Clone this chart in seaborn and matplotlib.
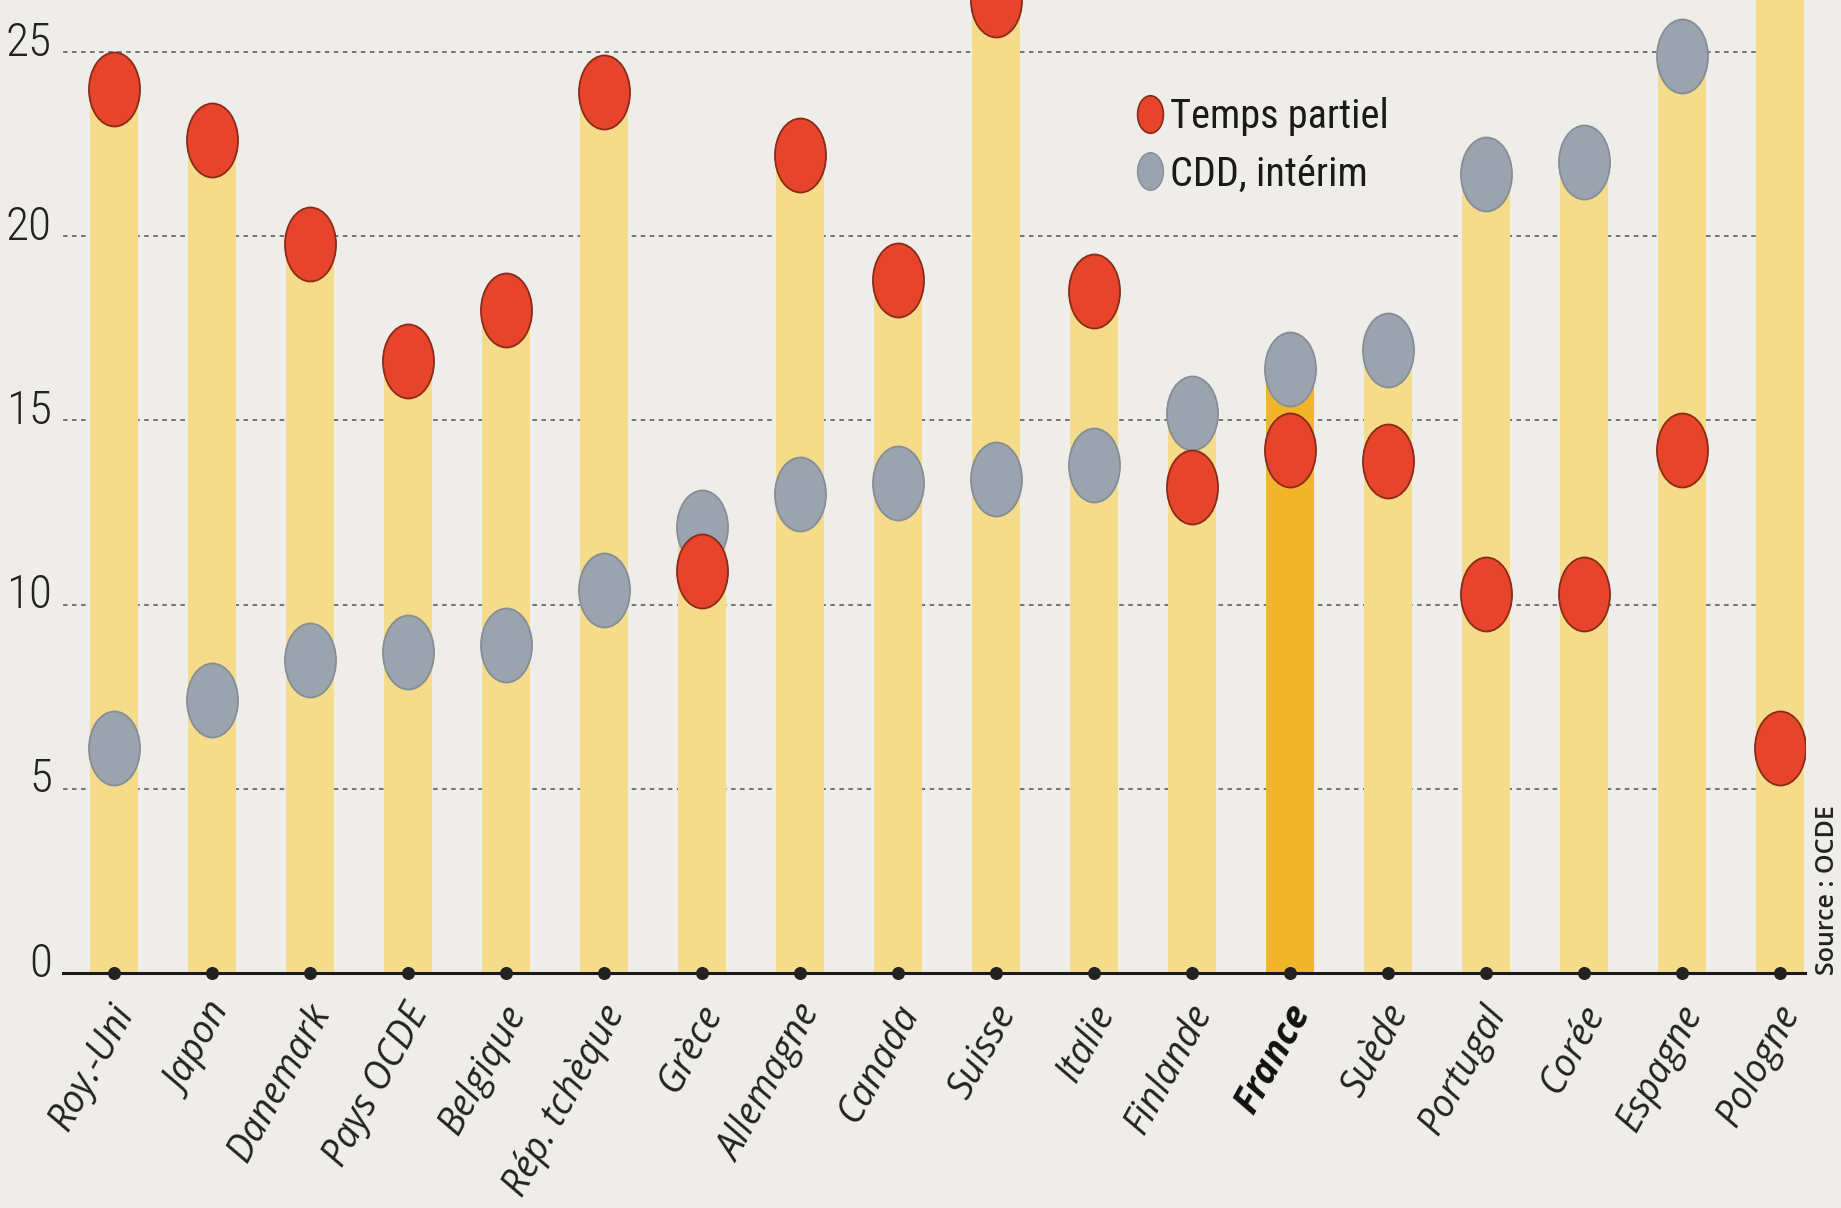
import numpy as np
import pandas as pd
import matplotlib
matplotlib.use("Agg")
import matplotlib.pyplot as plt
import matplotlib.transforms as mtransforms
from matplotlib.path import Path
from matplotlib.lines import Line2D
import seaborn as sns

# Part de l'emploi total (%), OCDE
pays = ["Roy.-Uni", "Japon", "Danemark", "Pays OCDE", "Belgique", "Rép. tchèque",
        "Grèce", "Allemagne", "Canada", "Suisse", "Italie", "Finlande", "France",
        "Suède", "Portugal", "Corée", "Espagne", "Pologne"]
temps_partiel = [24.0, 22.6, 19.8, 16.6, 18.0, 23.9, 10.9, 22.2, 18.8, 26.4,
                 18.5, 13.2, 14.2, 13.9, 10.3, 10.3, 14.2, 6.1]
cdd_interim = [6.1, 7.4, 8.5, 8.7, 8.9, 10.4, 12.1, 13.0, 13.3, 13.4,
               13.8, 15.2, 16.4, 16.9, 21.7, 22.0, 24.9, 28.2]
y_ticks = [0, 5, 10, 15, 20, 25]
series = ["CDD, intérim", "Temps partiel"]
legend_order = ["Temps partiel", "CDD, intérim"]

BG = "#EFEDEA"
BAR = "#F4DC8A"
BAR_FR = "#F1B52A"
RED = "#E6452C"
GRAY = "#9AA3AE"

NARROW = ["Roboto Condensed", "Open Sans Condensed", "Lato", "DejaVu Sans"]
HUMANIST = ["Open Sans", "DejaVu Sans"]

sns.set_theme(style="white")
plt.rcParams["font.family"] = NARROW

bars = pd.DataFrame({"pays": pays,
                     "hauteur": np.maximum(temps_partiel, cdd_interim)})
points = pd.DataFrame({
    "pos": list(range(len(pays))) * 2,
    "valeur": cdd_interim + temps_partiel,
    "type": [series[0]] * len(pays) + [series[1]] * len(pays),
})

fig = plt.figure(figsize=(18.41, 12.08), dpi=100, facecolor=BG)
ax = fig.add_axes([63 / 1841, 235 / 1208, 1742 / 1841, 973 / 1208])
ax.set_facecolor(BG)

# dashed horizontal guides behind everything
for v in y_ticks[1:]:
    ax.axhline(v, color="#6a6a6a", lw=1.3, ls=(0, (2.5, 2.5)), zorder=0.5)

bar_colors = {p: (BAR_FR if p == "France" else BAR) for p in pays}
sns.barplot(data=bars, x="pays", y="hauteur", hue="pays", palette=bar_colors,
            width=0.49, errorbar=None, legend=False, saturation=1,
            linewidth=0, ax=ax, zorder=1)

# slightly tall elliptical dots
ellipse = Path.unit_circle().transformed(mtransforms.Affine2D().scale(1, 1.45))
edge = {series[0]: "#858d97", series[1]: "#8a2a18"}
for name, color in zip(series, [GRAY, RED]):
    sub = points[points["type"] == name]
    sns.scatterplot(data=sub, x="pos", y="valeur", color=color, marker=ellipse,
                    s=2840, edgecolor=edge[name], linewidth=1.3, ax=ax,
                    zorder=3, legend=False)

# small dots on the baseline under each country
ax.scatter(range(len(pays)), [0] * len(pays), s=70, color="#222222",
           zorder=5, clip_on=False)

ax.set_xlim(-0.52, 17.26)
ax.set_ylim(0, 26.41)
ax.set_xlabel("")
ax.set_ylabel("")

for s in ["top", "right", "left"]:
    ax.spines[s].set_visible(False)
ax.spines["bottom"].set_color("#1a1a1a")
ax.spines["bottom"].set_linewidth(2.2)
ax.spines["bottom"].set_zorder(4)

ax.set_yticks(y_ticks)
ax.set_yticklabels([str(v) for v in y_ticks], fontsize=34, color="#222222",
                   family=NARROW, fontweight="light")
ax.tick_params(axis="y", length=0, pad=8)
for lab in ax.get_yticklabels():
    lab.set_transform(lab.get_transform() +
                      mtransforms.ScaledTranslation(0, 10 / 72, fig.dpi_scale_trans))

ax.set_xticks(range(len(pays)))
ax.set_xticklabels(pays, rotation=61, ha="right", va="center",
                   rotation_mode="anchor", fontsize=27, style="italic",
                   color="#222222", family=HUMANIST)
ax.tick_params(axis="x", length=0, pad=25)
for lab in ax.get_xticklabels():
    lab.set_transform(lab.get_transform() +
                      mtransforms.ScaledTranslation(12 / 100, 0, fig.dpi_scale_trans))
    if lab.get_text() == "France":
        lab.set_fontweight("bold")
        lab.set_color("#111111")

handles = [
    Line2D([], [], ls="none", marker=ellipse, markersize=27, color=RED,
           markeredgecolor=edge[series[1]], markeredgewidth=1.2),
    Line2D([], [], ls="none", marker=ellipse, markersize=27, color=GRAY,
           markeredgecolor=edge[series[0]], markeredgewidth=1.0),
]
leg = ax.legend(handles, legend_order, loc="upper left",
                bbox_to_anchor=(0.617, 0.900), frameon=False,
                handlelength=0.6, handletextpad=0.2, labelspacing=0.45,
                borderaxespad=0, borderpad=0,
                prop={"family": NARROW, "size": 29})
for t in leg.get_texts():
    t.set_color("#1a1a1a")

fig.text(1828 / 1841, 1 - 890 / 1208, "Source : OCDE", rotation=90,
         ha="center", va="center", fontsize=18, color="#222222",
         fontweight="semibold", family=HUMANIST)

fig.savefig("out.png", dpi=100, facecolor=BG)
